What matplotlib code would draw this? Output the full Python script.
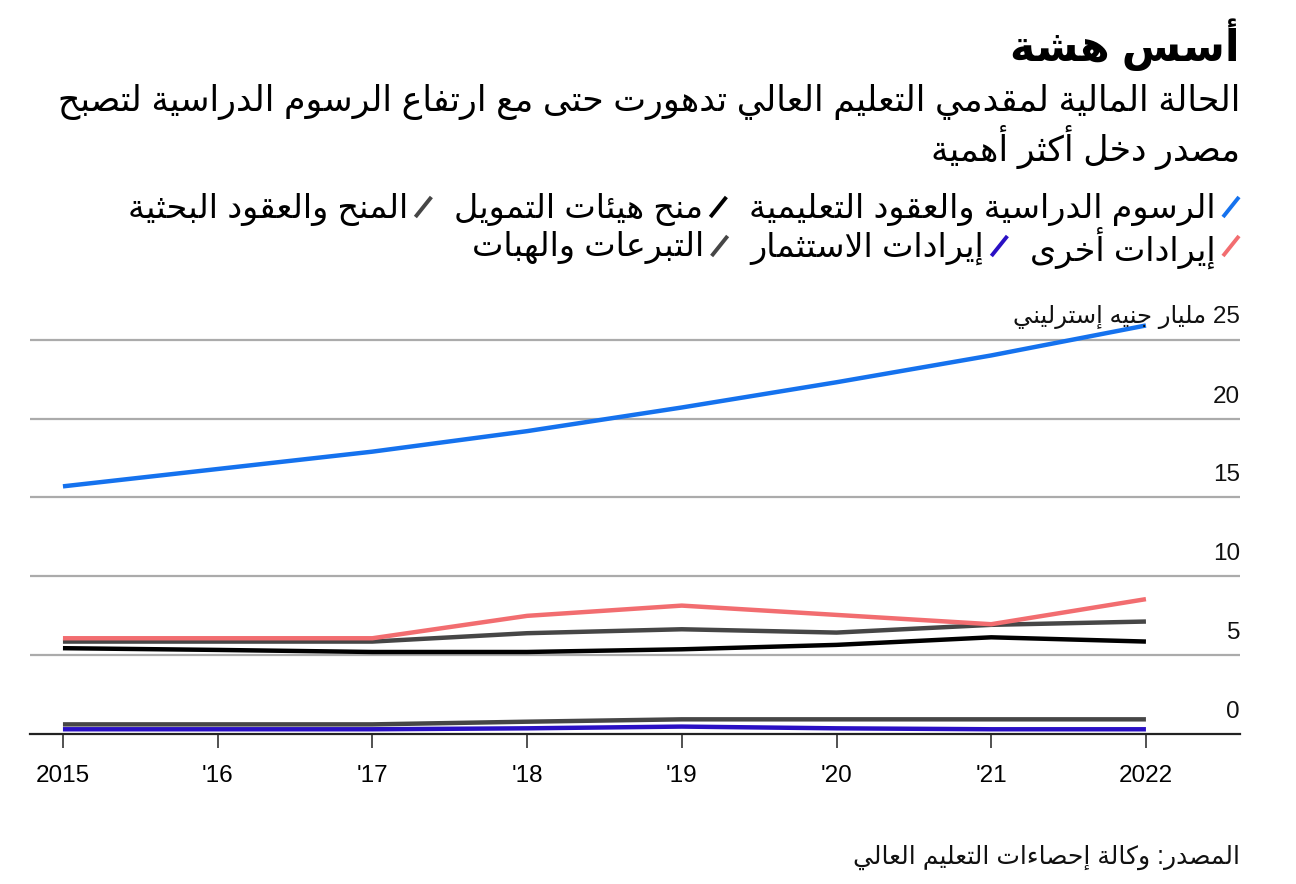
import matplotlib
matplotlib.use("Agg")
import matplotlib.pyplot as plt
import matplotlib.transforms as mtransforms
from matplotlib.lines import Line2D

# ---- data (bn GBP) ----
years = [2015, 2016, 2017, 2018, 2019, 2020, 2021, 2022]
year_labels = ["2015", "'16", "'17", "'18", "'19", "'20", "'21", "2022"]

tuition = [15.7, 16.8, 17.9, 19.2, 20.7, 22.3, 24.0, 25.9]
funding_grants = [5.44, 5.33, 5.2, 5.2, 5.37, 5.65, 6.13, 5.86]
research = [5.86, 5.86, 5.86, 6.39, 6.64, 6.43, 6.92, 7.13]
other_income = [6.07, 6.07, 6.07, 7.49, 8.14, 7.55, 6.96, 8.55]
investment = [0.3, 0.3, 0.3, 0.36, 0.47, 0.36, 0.3, 0.3]
donations = [0.61, 0.61, 0.61, 0.78, 0.93, 0.93, 0.93, 0.93]

y_ticks = [0, 5, 10, 15, 20, 25]
y_tick_labels = ["0", "5", "10", "15", "20", "25 مليار جنيه إسترليني"]

title = "أسس هشة"
subtitle = ["الحالة المالية لمقدمي التعليم العالي تدهورت حتى مع ارتفاع الرسوم الدراسية لتصبح",
            "مصدر دخل أكثر أهمية"]
source = "المصدر: وكالة إحصاءات التعليم العالي"

legend_rows = [
    [("الرسوم الدراسية والعقود التعليمية", "#1572ee"),
     ("منح هيئات التمويل", "#000000"),
     ("المنح والعقود البحثية", "#464646")],
    [("إيرادات أخرى", "#f26d70"),
     ("إيرادات الاستثمار", "#2a10c4"),
     ("التبرعات والهبات", "#464646")],
]

series = [
    (tuition, "#1572ee"),
    (funding_grants, "#000000"),
    (research, "#464646"),
    (other_income, "#f26d70"),
    (investment, "#2a10c4"),
    (donations, "#464646"),
]

# ---- minimal arabic shaping (no raqm in matplotlib) ----
FOUR = {0x0626: 0xFE89, 0x0628: 0xFE8F, 0x062A: 0xFE95, 0x062B: 0xFE99,
        0x062C: 0xFE9D, 0x062D: 0xFEA1, 0x062E: 0xFEA5, 0x0633: 0xFEB1,
        0x0634: 0xFEB5, 0x0635: 0xFEB9, 0x0636: 0xFEBD, 0x0637: 0xFEC1,
        0x0638: 0xFEC5, 0x0639: 0xFEC9, 0x063A: 0xFECD, 0x0641: 0xFED1,
        0x0642: 0xFED5, 0x0643: 0xFED9, 0x0644: 0xFEDD, 0x0645: 0xFEE1,
        0x0646: 0xFEE5, 0x0647: 0xFEE9, 0x064A: 0xFEF1}
TWO = {0x0622: 0xFE81, 0x0623: 0xFE83, 0x0624: 0xFE85, 0x0625: 0xFE87,
       0x0627: 0xFE8D, 0x0629: 0xFE93, 0x062F: 0xFEA9, 0x0630: 0xFEAB,
       0x0631: 0xFEAD, 0x0632: 0xFEAF, 0x0648: 0xFEED, 0x0649: 0xFEEF}
LAMALEF = {0x0622: 0xFEF5, 0x0623: 0xFEF7, 0x0625: 0xFEF9, 0x0627: 0xFEFB}


def is_ar(c):
    return ord(c) in FOUR or ord(c) in TWO or ord(c) == 0x0621


def shape(text):
    out = []
    i = 0
    n = len(text)
    while i < n:
        c = text[i]
        o = ord(c)
        prev_joins = i > 0 and ord(text[i - 1]) in FOUR
        if o == 0x0644 and i + 1 < n and ord(text[i + 1]) in LAMALEF:
            base = LAMALEF[ord(text[i + 1])]
            out.append(chr(base + 1 if prev_joins else base))
            i += 2
            continue
        nxt = i + 1 < n and is_ar(text[i + 1])
        if o in FOUR:
            if prev_joins and nxt:
                out.append(chr(FOUR[o] + 3))
            elif prev_joins:
                out.append(chr(FOUR[o] + 1))
            elif nxt:
                out.append(chr(FOUR[o] + 2))
            else:
                out.append(chr(FOUR[o]))
        elif o in TWO:
            out.append(chr(TWO[o] + 1 if prev_joins else TWO[o]))
        elif o == 0x0621:
            out.append(chr(0xFE80))
        else:
            out.append(c)
        i += 1
    # visual order: reverse, keeping digit/latin runs left-to-right
    runs, cur, cur_ltr = [], "", None
    for ch in out:
        ltr = ch.isascii() and ch.isalnum()
        if cur and ltr != cur_ltr:
            runs.append((cur, cur_ltr))
            cur = ""
        cur += ch
        cur_ltr = ltr
    if cur:
        runs.append((cur, cur_ltr))
    return "".join(r if ltr else r[::-1] for r, ltr in reversed(runs))


FONT = ["Liberation Sans", "DejaVu Sans"]
plt.rcParams["font.family"] = FONT

fig = plt.figure(figsize=(12.96, 8.84), dpi=100)
W, H = 1296, 884

# axes: x 30..1240 px, y top 316 .. bottom 734 px
ax = fig.add_axes([30 / W, 1 - 734 / H, 1210 / W, (734 - 316) / H])
ax.set_xlim(2014.787, 2022.608)
ax.set_ylim(0, 26.5)

for v in y_ticks[1:]:
    ax.axhline(v, color="#ababab", lw=1.6, zorder=1)

for vals, col in series:
    ax.plot(years, vals, color=col, lw=3.2, solid_capstyle="butt", zorder=3,
            clip_on=False)

for s in ["top", "right", "left"]:
    ax.spines[s].set_visible(False)
ax.spines["bottom"].set_linewidth(1.6)
ax.spines["bottom"].set_color("#222222")
ax.set_yticks([])
ax.set_xticks(years)
ax.set_xticklabels(year_labels, fontsize=17.5)
ax.tick_params(axis="x", length=10, width=1.1, color="#222222", pad=12)

# y labels sit above the gridlines on the right
off = mtransforms.ScaledTranslation(0, 11 / 100, fig.dpi_scale_trans)
trans = mtransforms.blended_transform_factory(ax.transAxes, ax.transData) + off
for v, lab in zip(y_ticks, y_tick_labels):
    ax.text(1.0, v, shape(lab), transform=trans, ha="right", va="bottom",
            fontsize=17.5, color="#111111")

# titles
fig.text(1240 / W, 1 - 45 / H, shape(title), ha="right", va="center",
         fontsize=31, fontweight="bold", family=FONT)
for k, line in enumerate(subtitle):
    fig.text(1240 / W, 1 - (102 + 46 * k) / H, shape(line), ha="right",
             va="center", fontsize=25, family=FONT)

# legend, laid out right to left with slanted-line keys
fig.canvas.draw()
renderer = fig.canvas.get_renderer()
for r, row in enumerate(legend_rows):
    x = 1240
    yc = 207 + 39 * r
    for lab, col in row:
        key = Line2D([(x - 17) / W, (x - 1) / W],
                     [1 - (yc + 10) / H, 1 - (yc - 10) / H],
                     transform=fig.transFigure, color=col, lw=2.8,
                     solid_capstyle="butt")
        fig.add_artist(key)
        x -= 18 + 6
        t = fig.text(x / W, 1 - (yc + 2) / H, shape(lab), ha="right",
                     va="center", fontsize=24, family=FONT)
        w = t.get_window_extent(renderer).width
        x -= w + 22

fig.text(1240 / W, 1 - 857 / H, shape(source), ha="right", va="center",
         fontsize=18, family=FONT, color="#111111")

fig.savefig("out.png", dpi=100, facecolor="white")
